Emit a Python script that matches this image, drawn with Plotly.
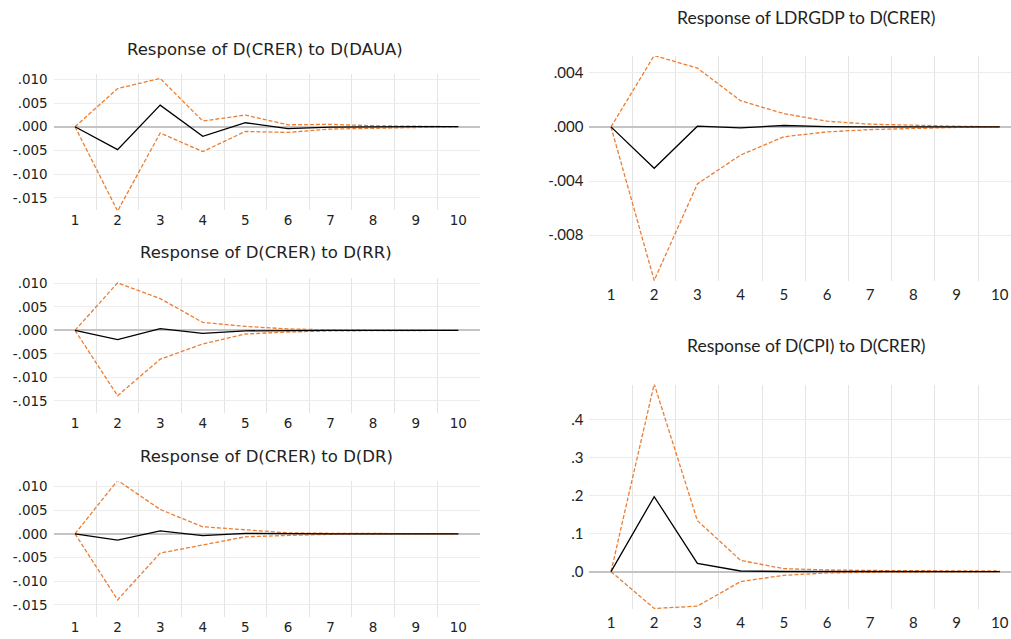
import plotly.graph_objects as go

periods = [1, 2, 3, 4, 5, 6, 7, 8, 9, 10]

# Response of D(CRER) to D(DAUA)
daua_resp = [0.0, -0.00483, 0.00455, -0.00203, 0.00084, -0.0004, -0.0001, 0.0, 0.0, 0.0]
daua_up = [0.0, 0.00805, 0.0102, 0.0012, 0.00245, 0.0004, 0.0005, 0.0002, 0.0001, 0.0]
daua_lo = [0.0, -0.0178, -0.00133, -0.00525, -0.001, -0.0012, -0.0005, -0.0003, -0.0001, 0.0]

# Response of D(CRER) to D(RR)
rr_resp = [0.0, -0.00197, 0.00035, -0.00063, -0.0001, 0.0, 0.0, 0.0, 0.0, 0.0]
rr_up = [0.0, 0.0101, 0.00676, 0.00169, 0.00085, 0.0003, 0.0001, 0.00005, 0.0, 0.0]
rr_lo = [0.0, -0.0139, -0.00613, -0.00289, -0.00077, -0.00035, -0.0001, -0.00005, 0.0, 0.0]

# Response of D(CRER) to D(DR)
dr_resp = [0.0, -0.00134, 0.00063, -0.0004, 0.0001, 0.0, 0.0, 0.0, 0.0, 0.0]
dr_up = [0.0, 0.01127, 0.00514, 0.00148, 0.00085, 0.0002, 0.0001, 0.00005, 0.0, 0.0]
dr_lo = [0.0, -0.01394, -0.00408, -0.00232, -0.00063, -0.00035, -0.0001, -0.00005, 0.0, 0.0]

# Response of LDRGDP to D(CRER)
gdp_resp = [0.0, -0.00306, 0.00005, -0.00007, 0.0001, 0.00002, 0.0, 0.0, 0.0, 0.0]
gdp_up = [0.0, 0.00527, 0.00434, 0.00193, 0.00098, 0.00042, 0.0002, 0.0001, 0.00005, 0.0]
gdp_lo = [0.0, -0.01134, -0.00421, -0.00208, -0.00073, -0.00037, -0.0002, -0.0001, -0.00004, 0.0]

# Response of D(CPI) to D(CRER)
cpi_resp = [0.0, 0.197, 0.0218, 0.0017, 0.0003, 0.0, 0.0, 0.0, 0.0, 0.0]
cpi_up = [0.0, 0.493, 0.134, 0.0296, 0.0078, 0.0044, 0.003, 0.002, 0.002, 0.002]
cpi_lo = [0.0, -0.0967, -0.0906, -0.0261, -0.0096, -0.0035, -0.0017, -0.0005, 0.0, 0.0]

titles = ["Response of D(CRER) to D(DAUA)", "Response of D(CRER) to D(RR)",
          "Response of D(CRER) to D(DR)", "Response of LDRGDP to D(CRER)",
          "Response of D(CPI) to D(CRER)"]

left_ticks = [0.010, 0.005, 0.0, -0.005, -0.010, -0.015]
left_ticktext = [".010", ".005", ".000", "-.005", "-.010", "-.015"]
gdp_ticks = [0.004, 0.0, -0.004, -0.008]
gdp_ticktext = [".004", ".000", "-.004", "-.008"]
cpi_ticks = [0.0, 0.1, 0.2, 0.3, 0.4]
cpi_ticktext = [".0", ".1", ".2", ".3", ".4"]

W, H = 1011, 639
ORANGE = "#ED7D31"

def px_x(a, b):
    return [a / W, b / W]

def px_y(top, bottom):
    return [1 - bottom / H, 1 - top / H]

panels = [
    dict(resp=daua_resp, up=daua_up, lo=daua_lo, xd=px_x(53.7, 479.6), yd=px_y(71.7, 208.3),
         yr=[-0.01765, 0.01105], tv=left_ticks, tt=left_ticktext, xr=[0.5, 10.5], left=True,
         tx=265, ty=46.7),
    dict(resp=rr_resp, up=rr_up, lo=rr_lo, xd=px_x(53.7, 479.6), yd=px_y(276.7, 412.3),
         yr=[-0.01765, 0.01105], tv=left_ticks, tt=left_ticktext, xr=[0.5, 10.5], left=True,
         tx=266, ty=250.7),
    dict(resp=dr_resp, up=dr_up, lo=dr_lo, xd=px_x(53.7, 479.6), yd=px_y(480.7, 617.3),
         yr=[-0.01765, 0.01105], tv=left_ticks, tt=left_ticktext, xr=[0.5, 10.5], left=True,
         tx=266, ty=455.7),
    dict(resp=gdp_resp, up=gdp_up, lo=gdp_lo, xd=px_x(589.4, 1011), yd=px_y(53.3, 279.3),
         yr=[-0.01138, 0.00523], tv=gdp_ticks, tt=gdp_ticktext, xr=[0.5, 10.26], left=False,
         tx=806, ty=15),
    dict(resp=cpi_resp, up=cpi_up, lo=cpi_lo, xd=px_x(589.4, 1011), yd=px_y(383.3, 609.3),
         yr=[-0.0993, 0.4915], tv=cpi_ticks, tt=cpi_ticktext, xr=[0.5, 10.26], left=False,
         tx=806, ty=344),
]

fig = go.Figure()
layout = dict(width=W, height=H, margin=dict(l=0, r=0, t=0, b=0),
              paper_bgcolor="white", plot_bgcolor="white", showlegend=False)
annotations = []
grid_vals = [p + 0.5 for p in periods]

for i, p in enumerate(panels):
    n = "" if i == 0 else str(i + 1)
    xa, ya = "x" + n, "y" + n
    font_family = "DejaVu Sans" if p["left"] else "Lato"
    tick_size = 13.5 if p["left"] else 15
    for series, color, dash in ((p["up"], ORANGE, "4px,2px"), (p["lo"], ORANGE, "4px,2px"),
                                (p["resp"], "black", "solid")):
        fig.add_trace(go.Scatter(x=periods, y=series, mode="lines", xaxis=xa, yaxis=ya,
                                 line=dict(color=color, width=1.3, dash=dash),
                                 hoverinfo="skip"))
    layout["xaxis" + n] = dict(domain=p["xd"], range=p["xr"], anchor=ya,
                               tickmode="array", tickvals=periods, ticktext=[str(v) for v in periods],
                               showgrid=False, zeroline=False, showline=False, ticks="",
                               tickfont=dict(family=font_family, size=tick_size, color="#222222"),
                               ticklabelstandoff=0 if p["left"] else 3,
                               minor=dict(tickmode="array", tickvals=grid_vals, showgrid=True,
                                          gridcolor="#e4e4e4", gridwidth=1.3, ticks=""),
                               fixedrange=True)
    layout["yaxis" + n] = dict(domain=p["yd"], range=p["yr"], anchor=xa,
                               tickmode="array", tickvals=p["tv"], ticktext=p["tt"],
                               showgrid=True, gridcolor="#ececec", gridwidth=1.3,
                               zeroline=True, zerolinecolor="#c4c4c4", zerolinewidth=2,
                               showline=False, ticks="",
                               tickfont=dict(family=font_family, size=tick_size, color="#222222"),
                               ticklabelstandoff=5, fixedrange=True)
    annotations.append(dict(text=titles[i], x=p["tx"] / W, y=1 - p["ty"] / H,
                            xref="paper", yref="paper", showarrow=False,
                            xanchor="center", yanchor="middle",
                            font=dict(family=font_family, size=16.5 if p["left"] else 17.5,
                                      color="#222222")))

layout["annotations"] = annotations
fig.update_layout(**layout)
fig.write_html("out.html")
